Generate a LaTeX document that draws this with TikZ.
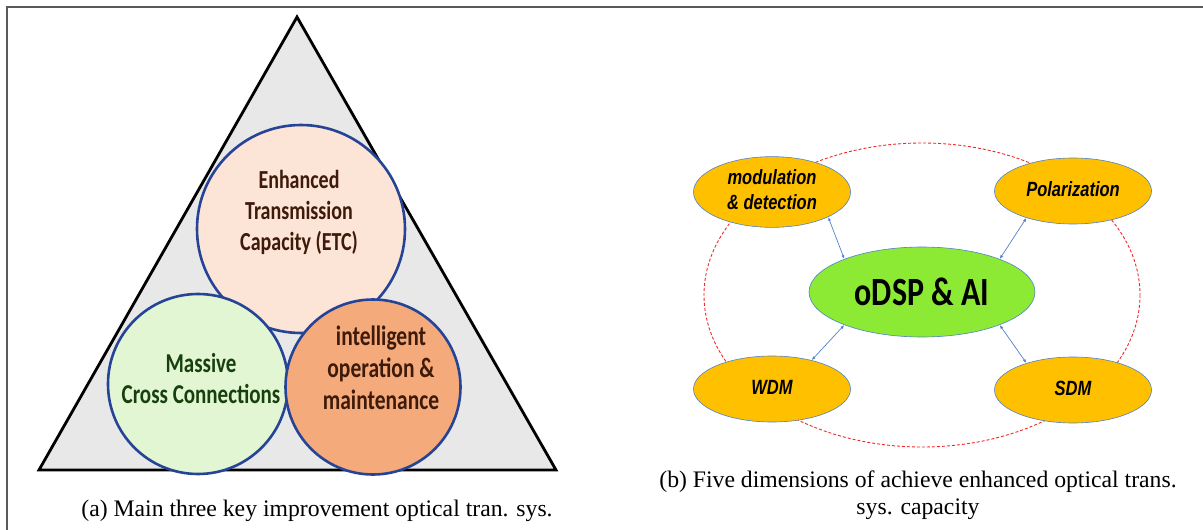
\documentclass[tikz,border=0pt]{standalone}
\usepackage{fontspec}
\setmainfont{Liberation Serif}
\newfontfamily\calib{Carlito}
\newfontfamily\arialf{Liberation Sans}
\usetikzlibrary{shapes.geometric,arrows.meta}
\definecolor{tri}{RGB}{232,232,232}
\definecolor{cblue}{RGB}{38,68,150}
\definecolor{peach}{RGB}{252,228,214}
\definecolor{lgreen}{RGB}{226,246,212}
\definecolor{orng}{RGB}{244,170,122}
\definecolor{brownt}{RGB}{62,26,10}
\definecolor{greent}{RGB}{24,64,14}
\definecolor{gold}{RGB}{255,192,0}
\definecolor{lime}{RGB}{140,234,52}
\definecolor{eblue}{RGB}{80,130,200}
\definecolor{dred}{RGB}{240,40,40}
\definecolor{frame}{RGB}{90,90,90}
\newcommand{\vst}[2]{\scalebox{1}[#1]{\begin{tabular}{@{}c@{}}#2\end{tabular}}}
\tikzset{
  bigcirc/.style={circle, draw=cblue, line width=2.6pt, inner sep=0pt},
  ctext/.style={inner sep=0pt, align=center},
  dimell/.style={ellipse, draw=eblue, line width=0.6pt, fill=gold, minimum width=157pt,
     minimum height=66pt, inner sep=0pt, align=center,
     font=\arialf\bfseries\itshape\fontsize{16.5}{20}\selectfont},
  link/.style={{Latex[length=4pt,width=3pt]}-{Latex[length=4pt,width=3pt]}, draw=eblue, line width=0.7pt},
  capt/.style={font=\fontsize{23.7}{27}\selectfont, align=center, inner sep=0pt}
}
\begin{document}
\begin{tikzpicture}[x=1pt,y=-1pt]
\useasboundingbox (0,0) rectangle (1203,530);
% frame
\draw[frame, line width=1.5pt] (7,540) -- (7,7) -- (1210,7);
% triangle
\draw[fill=tri, line width=2.8pt, line join=miter] (297,17) -- (556,470) -- (39,470) -- cycle;
% circles
\node[bigcirc, fill=peach, minimum size=208pt] (etc) at (301,229) {};
\node[bigcirc, fill=lgreen, minimum size=180pt] (mcc) at (198,384) {};
\node[bigcirc, fill=orng, minimum size=175pt] (iom) at (373,387) {};
\node[ctext, text=brownt, font=\calib\bfseries\fontsize{20}{24}\selectfont] (etct) at (299,213)
  {\vst{1.3}{Enhanced\\Transmission\\Capacity (ETC)}};
\node[ctext, text=greent, font=\calib\bfseries\fontsize{21}{23.5}\selectfont] (mcct) at (201,382)
  {\vst{1.3}{Massive\\Cross Connections}};
\node[ctext, text=brownt, font=\calib\bfseries\fontsize{21.5}{24.5}\selectfont] (iomt) at (381,371)
  {\vst{1.3}{intelligent\\operation \&\\maintenance}};
% right panel
\draw[dred, dashed, line width=0.9pt, dash pattern=on 3pt off 2pt] (922,295) ellipse [x radius=218, y radius=152];
\node[ellipse, draw=eblue, line width=0.6pt, fill=lime, minimum width=226pt, minimum height=90pt,
  inner sep=0pt, font=\calib\bfseries\fontsize{32}{36}\selectfont] (odsp) at (922,292)
  {\scalebox{1}[1.25]{oDSP \& AI}};
\node[dimell] (mod) at (772,192) {\vst{1.25}{modulation\\\& detection}};
\node[dimell] (pol) at (1073,191) {\vst{1.25}{Polarization}};
\node[dimell] (wdm) at (772,389) {\vst{1.25}{WDM}};
\node[dimell] (sdm) at (1073,390) {\vst{1.25}{SDM}};
\draw[link] (mod.-24) -- (odsp.157);
\draw[link] (pol.-150) -- (odsp.23);
\draw[link] (wdm.36) -- (odsp.-157);
\draw[link] (sdm.150) -- (odsp.-23);
% captions
\node[capt] (ca) at (317,511) {(a) Main three key improvement optical tran. sys.};
\node[capt] (cb) at (918,495) {(b) Five dimensions of achieve enhanced optical trans.\\sys. capacity};
\end{tikzpicture}
\end{document}
